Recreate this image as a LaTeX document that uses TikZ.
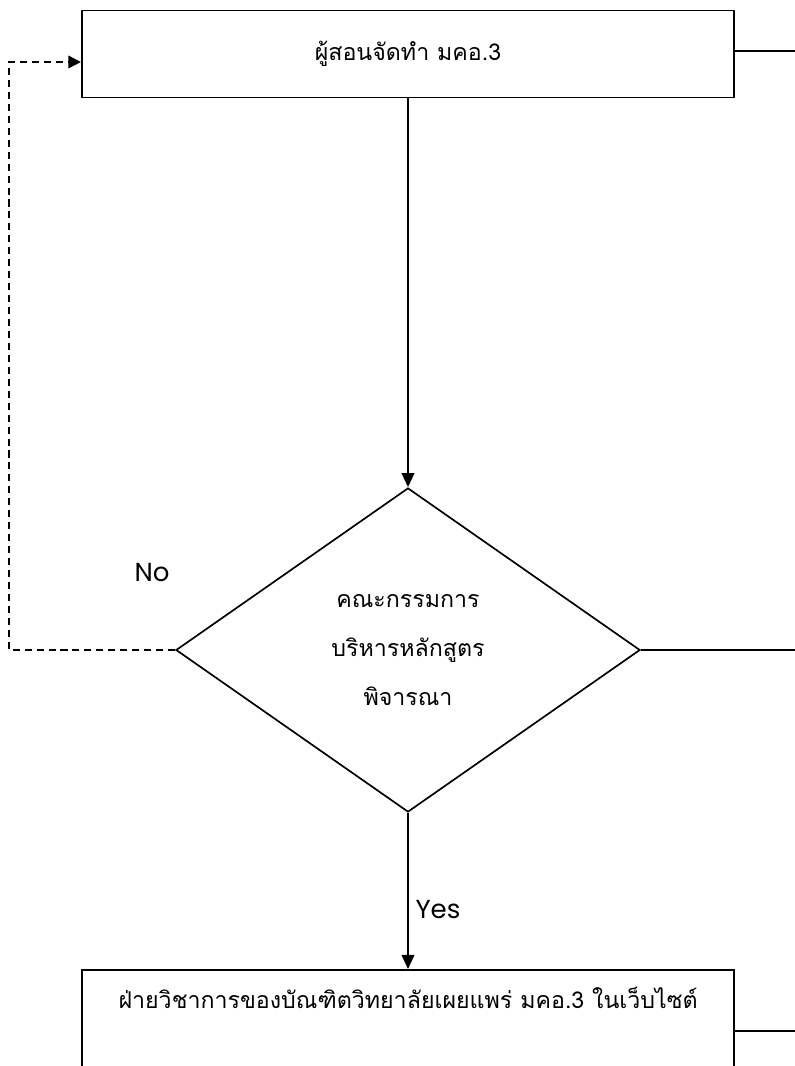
\documentclass[tikz,border=0pt]{standalone}
\usepackage{fontspec}
\setmainfont{Poppins}
\newfontfamily\thaifont[Script=Thai]{Loma}
\newcommand{\thaitext}{\thaifont\fontsize{16.5}{35}\selectfont}
\usetikzlibrary{shapes.geometric,arrows.meta}

\begin{document}
\begin{tikzpicture}[x=0.025cm,y=-0.025cm,
  box/.style={draw,line width=1.4pt,minimum width=16.3cm,font=\thaitext},
  decision/.style={diamond,draw,line width=1.2pt,minimum width=11.6cm,minimum height=8.1cm,inner sep=0pt,align=center,font=\thaitext},
  lbl/.style={font=\fontsize{18.5}{22}\selectfont},
  flow/.style={line width=1.4pt,-{Triangle[length=10pt,width=9pt]}},
  back/.style={line width=1.3pt,dash pattern=on 5pt off 3.5pt,-{Triangle[length=9pt,width=9pt]}},
  exit/.style={line width=1.4pt}]
\useasboundingbox (0,0) rectangle (795,1066);

\node [box,minimum height=2.175cm] (teacher) at (408,54) {ผู้สอนจัดทำ มคอ.3};
\node [decision] (board) at (408,650) {คณะกรรมการ\\บริหารหลักสูตร\\พิจารณา};
\node [box,anchor=north,inner ysep=0pt,text height=0.95cm,text depth=4cm] (publish) at (408,969)
  {ฝ่ายวิชาการของบัณฑิตวิทยาลัยเผยแพร่ มคอ.3 ในเว็บไซต์};

\node [lbl] (no) at (152,573) {No};
\node [lbl] (yes) at (438,910) {Yes};

% free ends
\coordinate (loop) at (9,62);
\coordinate (out1) at (800,51);
\coordinate (out2) at (800,650);
\coordinate (out3) at (800,1031);

\draw [flow] (teacher) -- (board);
\draw [flow] (board) -- (publish);
\draw [back] (board.west) -| (loop) -- (loop -| teacher.west);

\draw [exit] (out1 -| teacher.east) -- (out1);
\draw [exit] (board.east) -- (out2);
\draw [exit] (out3 -| publish.east) -- (out3);
\end{tikzpicture}
\end{document}
